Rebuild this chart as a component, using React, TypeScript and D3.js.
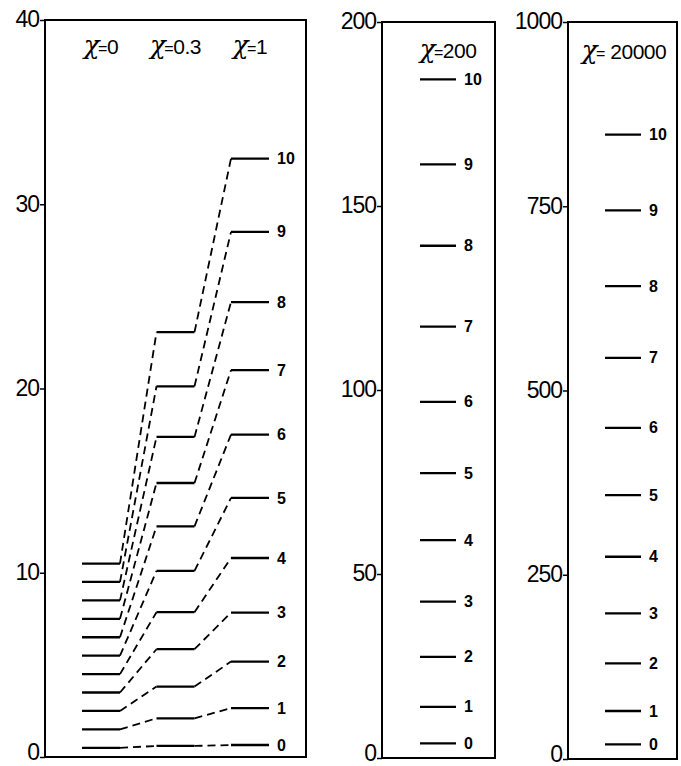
import { useRef, useEffect } from 'react';
import * as d3 from 'd3';

// energy levels n = 0..10 for each value of chi
const levels = [0, 1, 2, 3, 4, 5, 6, 7, 8, 9, 10];
const chiColumns = ['0', '0.3', '1'];
const eChi0 = [0.5, 1.5, 2.5, 3.5, 4.5, 5.5, 6.5, 7.5, 8.5, 9.5, 10.5];
const eChi03 = [0.6, 2.1, 3.82, 5.85, 7.86, 10.1, 12.52, 14.87, 17.37, 20.12, 23.06];
const eChi1 = [0.65, 2.65, 5.18, 7.84, 10.8, 14.06, 17.5, 21.0, 24.69, 28.5, 32.48];
const eChi200 = [4.0, 13.9, 27.5, 42.5, 59.2, 77.4, 96.8, 117.2, 139.2, 161.3, 184.4];
const eChi20000 = [19.9, 65.1, 129.8, 197.6, 274.4, 358.1, 449.3, 544.3, 641.5, 744.3, 847.3];

const ticks1 = [0, 10, 20, 30, 40];
const ticks2 = [0, 50, 100, 150, 200];
const ticks3 = [0, 250, 500, 750, 1000];

const FONT = '"Liberation Sans", Arial, sans-serif';

export default function App() {
    const svgRef = useRef<SVGSVGElement>(null);

    useEffect(() => {
        if (!svgRef.current) return;
        const svg = d3.select(svgRef.current);
        svg.selectAll('*').remove();

        const drawFrame = (left: number, right: number, top: number, bottom: number, y: d3.ScaleLinear<number, number>, ticks: number[]) => {
            svg.append('rect')
                .attr('x', left).attr('y', top)
                .attr('width', right - left).attr('height', bottom - top)
                .attr('fill', 'none').attr('stroke', '#000').attr('stroke-width', 2);

            const ax = svg.append('g')
                .attr('transform', `translate(${left},0)`)
                .call(d3.axisLeft(y).tickValues(ticks).tickFormat(d3.format('d')).tickSize(5).tickPadding(1).tickSizeOuter(0));
            ax.select('.domain').remove();
            ax.selectAll('line').attr('stroke', '#000').attr('stroke-width', 1.5);
            ax.selectAll<SVGTextElement, number>('text')
                .attr('fill', '#000')
                .attr('dy', d => (d === 0 ? '0.12em' : '0.3em'))
                .style('font-family', FONT)
                .style('font-size', '23px')
                .style('letter-spacing', '-1px');
        };

        const header = (x: number, y: number, value: string) => {
            const t = svg.append('text')
                .attr('x', x).attr('y', y)
                .attr('text-anchor', 'middle')
                .style('font-family', FONT)
                .style('font-size', '21px')
                .style('letter-spacing', '-0.5px')
                .attr('fill', '#000');
            t.append('tspan')
                .style('font-family', '"DejaVu Serif", serif')
                .style('font-style', 'italic')
                .style('font-size', '26px')
                .text('χ');
            t.append('tspan').attr('dx', -1).style('font-size', '16px').text('=');
            t.append('tspan').text(value);
        };

        const levelLabel = (x: number, y: number, n: number) => {
            svg.append('text')
                .attr('x', x).attr('y', y)
                .attr('dy', '0.35em')
                .style('font-family', FONT)
                .style('font-size', '16px')
                .style('font-weight', 'bold')
                .attr('fill', '#000')
                .text(n);
        };

        // ---------- panel 1 : chi = 0, 0.3, 1 ----------
        const y1 = d3.scaleLinear().domain([0, 40]).range([757, 20]);
        drawFrame(45, 306, 20, 757, y1, ticks1);

        const xCol = d3.scalePoint<string>().domain(chiColumns).range([101, 250]);
        const halfW = 19;
        const series = [eChi0, eChi03, eChi1];

        levels.forEach((n, i) => {
            // solid level bars
            series.forEach((s, c) => {
                const cx = xCol(chiColumns[c]) || 0;
                svg.append('line')
                    .attr('x1', cx - halfW).attr('x2', cx + halfW)
                    .attr('y1', y1(s[i])).attr('y2', y1(s[i]))
                    .attr('stroke', '#000').attr('stroke-width', 2.3);
            });
            // dashed connectors
            for (let c = 0; c < series.length - 1; c++) {
                const xa = (xCol(chiColumns[c]) || 0) + halfW;
                const xb = (xCol(chiColumns[c + 1]) || 0) - halfW;
                svg.append('line')
                    .attr('x1', xa).attr('x2', xb)
                    .attr('y1', y1(series[c][i])).attr('y2', y1(series[c + 1][i]))
                    .attr('stroke', '#000').attr('stroke-width', 1.8)
                    .attr('stroke-dasharray', '8,5');
            }
            levelLabel((xCol('1') || 0) + halfW + 8, y1(eChi1[i]), n);
        });

        chiColumns.forEach(c => header(xCol(c) || 0, 54, c));

        // ---------- panel 2 : chi = 200 ----------
        const y2 = d3.scaleLinear().domain([0, 200]).range([758, 22]);
        drawFrame(382, 495, 22, 758, y2, ticks2);
        levels.forEach((n, i) => {
            svg.append('line')
                .attr('x1', 420).attr('x2', 456)
                .attr('y1', y2(eChi200[i])).attr('y2', y2(eChi200[i]))
                .attr('stroke', '#000').attr('stroke-width', 2.3);
            levelLabel(464, y2(eChi200[i]), n);
        });
        header(448, 58, '200');

        // ---------- panel 3 : chi = 20000 ----------
        const y3 = d3.scaleLinear().domain([0, 1000]).range([759, 22]);
        drawFrame(568, 677, 22, 759, y3, ticks3);
        levels.forEach((n, i) => {
            svg.append('line')
                .attr('x1', 605).attr('x2', 641)
                .attr('y1', y3(eChi20000[i])).attr('y2', y3(eChi20000[i]))
                .attr('stroke', '#000').attr('stroke-width', 2.3);
            levelLabel(649, y3(eChi20000[i]), n);
        });
        header(624, 59, ' 20000');
    }, []);

    return (
        <svg ref={svgRef} width={681} height={766}
            style={{ position: 'absolute', left: 0, top: 0, background: '#fff' }} />
    );
}
